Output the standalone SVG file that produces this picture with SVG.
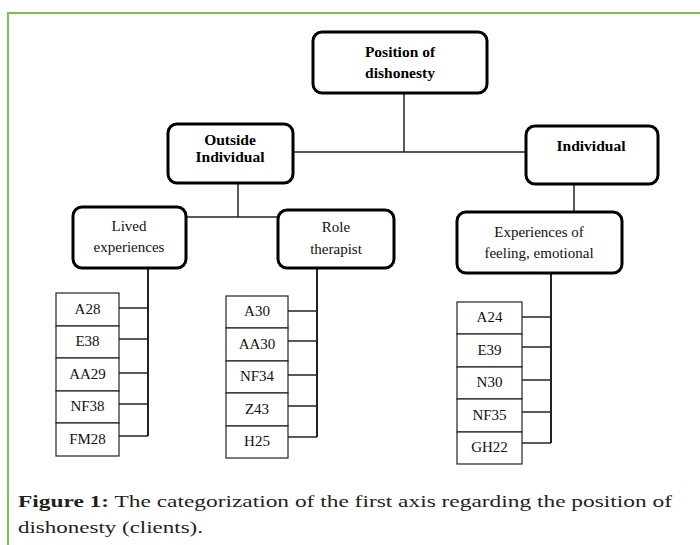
<svg xmlns="http://www.w3.org/2000/svg" width="700" height="545" viewBox="0 0 700 545">
<style>
.node rect{fill:#fff;stroke:#000;stroke-width:3}
.item rect{fill:#fff;stroke:#222;stroke-width:1.2}
text{font-family:'Liberation Serif','Times New Roman','DejaVu Serif',serif}
.hb{font-weight:bold;font-size:15.5px;fill:#000;text-anchor:middle}
.hr{font-size:15px;fill:#111;text-anchor:middle}
.it{font-size:15px;fill:#111;text-anchor:middle}
.cap{font-size:17px;fill:#231f20}
#connectors line{stroke:#222;stroke-width:1.5}
#connectors .v{stroke-width:2}
</style>
<rect x="0" y="0" width="700" height="545" fill="#fff"/>
<g id="frame" fill="none" stroke="#7cc055" stroke-width="2">
<path d="M8 545 V13 H700"/>
</g>
<g id="connectors">
<line x1="404" y1="93" x2="404" y2="152"/>
<line x1="293" y1="152" x2="526" y2="152"/>
<line x1="238" y1="183" x2="238" y2="217"/>
<line x1="186" y1="217" x2="278" y2="217"/>
<line x1="574" y1="184" x2="574" y2="212"/>
<line class="v" x1="148" y1="268" x2="148" y2="436"/>
<line x1="119" y1="308" x2="148" y2="308"/>
<line x1="119" y1="339" x2="148" y2="339"/>
<line x1="119" y1="373" x2="148" y2="373"/>
<line x1="119" y1="404" x2="148" y2="404"/>
<line x1="119" y1="436" x2="148" y2="436"/>
<line class="v" x1="317" y1="268" x2="317" y2="437"/>
<line x1="288" y1="311" x2="317" y2="311"/>
<line x1="288" y1="341" x2="317" y2="341"/>
<line x1="288" y1="375" x2="317" y2="375"/>
<line x1="288" y1="406" x2="317" y2="406"/>
<line x1="288" y1="437" x2="317" y2="437"/>
<line class="v" x1="551" y1="273" x2="551" y2="443"/>
<line x1="522" y1="317" x2="551" y2="317"/>
<line x1="522" y1="347" x2="551" y2="347"/>
<line x1="522" y1="380" x2="551" y2="380"/>
<line x1="522" y1="412" x2="551" y2="412"/>
<line x1="522" y1="443" x2="551" y2="443"/>
</g>
<g id="position" class="node">
<rect x="313" y="32" width="174" height="61" rx="9"/>
<text class="hb" x="400" y="57" font-size="16">Position of</text>
<text class="hb" x="400" y="78" font-size="16">dishonesty</text>
</g>
<g id="outside" class="node">
<rect x="168" y="124" width="125" height="59" rx="9"/>
<text class="hb" x="230" y="145" font-size="13">Outside</text>
<text class="hb" x="230" y="162" font-size="13">Individual</text>
</g>
<g id="individual" class="node">
<rect x="526" y="126" width="132" height="58" rx="9"/>
<text class="hb" x="591" y="151">Individual</text>
</g>
<g id="lived" class="node">
<rect x="73" y="207" width="113" height="61" rx="9"/>
<text class="hr" x="129" y="231">Lived</text>
<text class="hr" x="129" y="252">experiences</text>
</g>
<g id="role" class="node">
<rect x="278" y="210" width="116" height="58" rx="9"/>
<text class="hr" x="336" y="232">Role</text>
<text class="hr" x="336" y="254">therapist</text>
</g>
<g id="experiences" class="node">
<rect x="457" y="212" width="165" height="61" rx="9"/>
<text class="hr" x="539" y="237">Experiences of</text>
<text class="hr" x="539" y="258">feeling, emotional</text>
</g>
<g id="a28" class="item"><rect x="56" y="293" width="63" height="33"/><text class="it" x="87.5" y="314">A28</text></g>
<g id="e38" class="item"><rect x="56" y="326" width="63" height="32"/><text class="it" x="87.5" y="346">E38</text></g>
<g id="aa29" class="item"><rect x="56" y="358" width="63" height="33"/><text class="it" x="87.5" y="379">AA29</text></g>
<g id="nf38" class="item"><rect x="56" y="391" width="63" height="32"/><text class="it" x="87.5" y="411">NF38</text></g>
<g id="fm28" class="item"><rect x="56" y="423" width="63" height="33"/><text class="it" x="87.5" y="444">FM28</text></g>
<g id="a30" class="item"><rect x="226" y="296" width="62" height="32"/><text class="it" x="257" y="316">A30</text></g>
<g id="aa30" class="item"><rect x="226" y="328" width="62" height="33"/><text class="it" x="257" y="349">AA30</text></g>
<g id="nf34" class="item"><rect x="226" y="361" width="62" height="32"/><text class="it" x="257" y="381">NF34</text></g>
<g id="z43" class="item"><rect x="226" y="393" width="62" height="33"/><text class="it" x="257" y="414">Z43</text></g>
<g id="h25" class="item"><rect x="226" y="426" width="62" height="32"/><text class="it" x="257" y="446">H25</text></g>
<g id="a24" class="item"><rect x="457" y="302" width="65" height="32"/><text class="it" x="489.5" y="322">A24</text></g>
<g id="e39" class="item"><rect x="457" y="334" width="65" height="33"/><text class="it" x="489.5" y="355">E39</text></g>
<g id="n30" class="item"><rect x="457" y="367" width="65" height="32"/><text class="it" x="489.5" y="387">N30</text></g>
<g id="nf35" class="item"><rect x="457" y="399" width="65" height="33"/><text class="it" x="489.5" y="420">NF35</text></g>
<g id="gh22" class="item"><rect x="457" y="432" width="65" height="32"/><text class="it" x="489.5" y="452">GH22</text></g>
<g id="caption">
<text class="cap" x="18" y="507" textLength="654" lengthAdjust="spacingAndGlyphs"><tspan font-weight="bold">Figure 1:</tspan> The categorization of the first axis regarding the position of</text>
<text class="cap" x="18" y="533" textLength="185" lengthAdjust="spacingAndGlyphs">dishonesty (clients).</text>
</g>
</svg>
